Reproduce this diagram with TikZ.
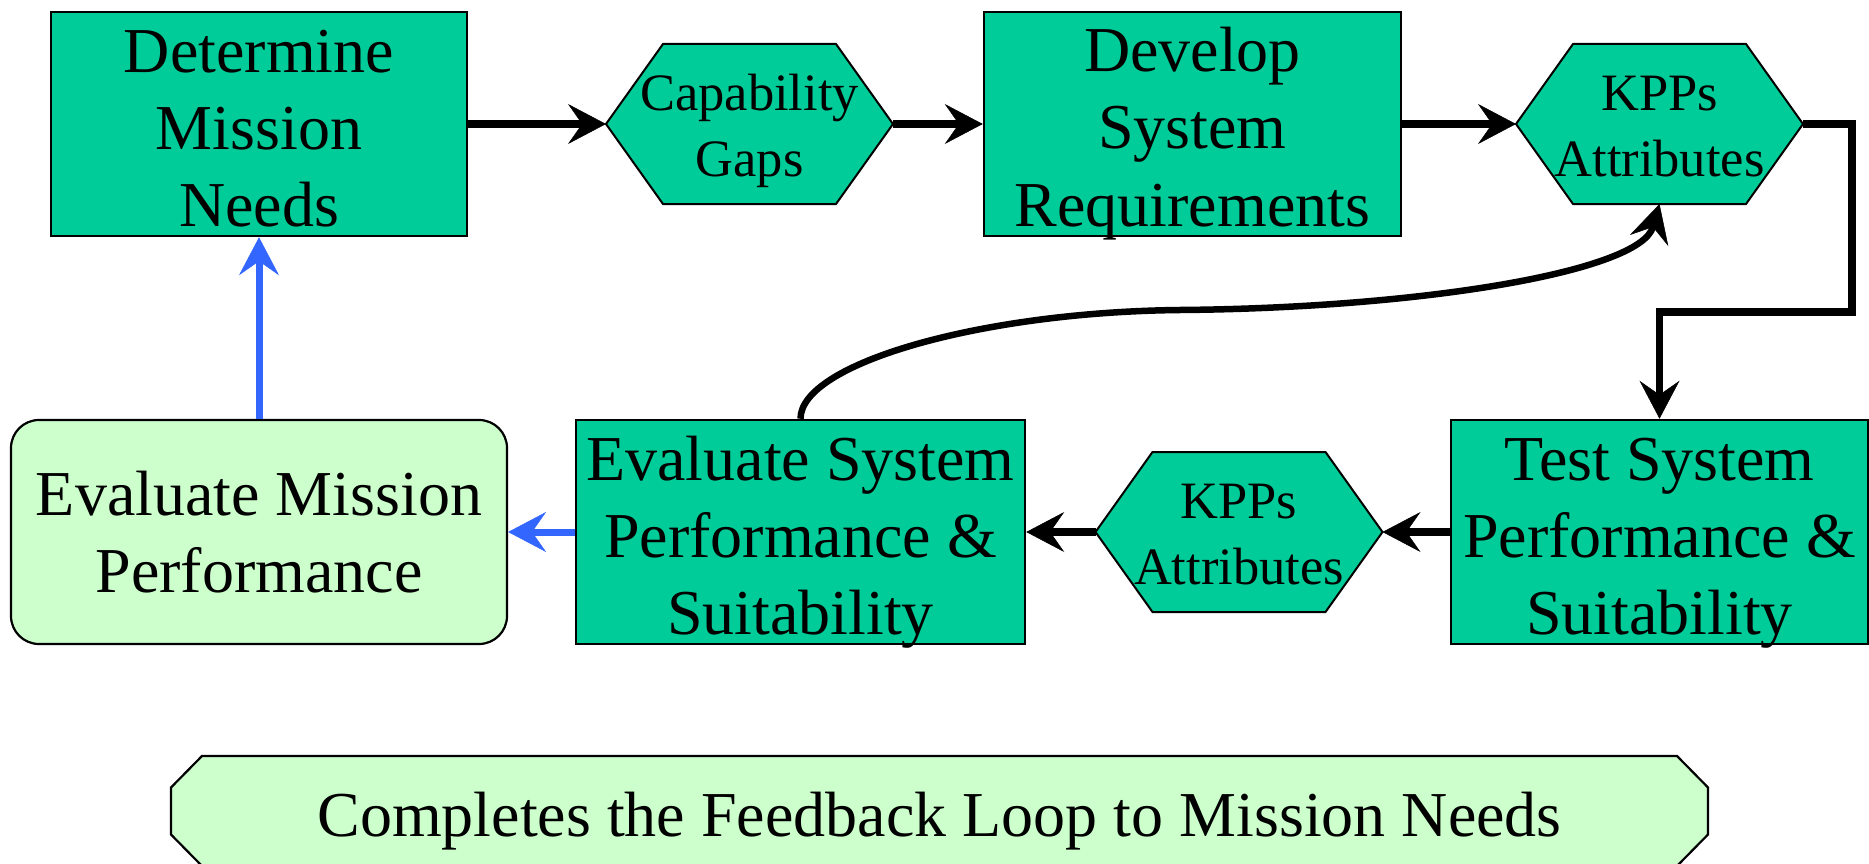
\documentclass[tikz,border=0pt]{standalone}
\usepackage{fontspec}
\setmainfont{Liberation Serif}
\usetikzlibrary{arrows.meta,backgrounds,calc}

\definecolor{stepteal}{RGB}{0,204,153}
\definecolor{palegreen}{RGB}{204,255,204}
\definecolor{loopblue}{RGB}{51,102,255}

% fixed line struts so every label sits on the same baselines
\newcommand{\bigstrut}{\rule[-14pt]{0pt}{78pt}}
\newcommand{\smallstrut}{\rule[-13pt]{0pt}{65pt}}

\begin{document}
\begin{tikzpicture}[x=1pt,y=-1pt,
  bigtext/.style={font=\fontsize{64}{77}\selectfont, align=center, text=black},
  smalltext/.style={font=\fontsize{52.5}{63}\selectfont, align=center, text=black},
  stepbox/.style={bigtext, draw=black, line width=2.5pt, fill=stepteal, inner xsep=0pt, inner ysep=-10pt},
  missionbox/.style={bigtext, draw=black, line width=2.2pt, fill=palegreen, inner sep=0pt, rounded corners=28pt},
  hexlabel/.style={smalltext, inner sep=0pt, outer sep=0pt, minimum width=287pt, minimum height=160pt},
  hexshape/.style={draw=black, line width=2pt, fill=stepteal, line join=miter},
  loopshape/.style={draw=black, line width=2.2pt, fill=palegreen},
  tip/.style={-{Stealth[length=38pt,width=40pt,inset=14pt,line width=0.5pt]}},
  flow/.style={tip, draw=black, line width=7.5pt},
  backflow/.style={tip, draw=loopblue, color=loopblue, line width=7pt},
  curveflow/.style={tip, draw=black, line width=6.5pt},
]
\useasboundingbox (0,0) rectangle (1869,864);

% upper row
\node[stepbox, minimum width=416pt, minimum height=224pt] (need) at (259,124)
  {\bigstrut Determine\\Mission\\Needs\bigstrut};
\node[hexlabel] (gaps) at (749.5,124) {\smallstrut Capability\\Gaps\smallstrut};
\node[stepbox, minimum width=417pt, minimum height=224pt] (req) at (1192.5,124)
  {\bigstrut Develop\\System\\Requirements\bigstrut};
\node[hexlabel] (kpp1) at (1659.5,124) {\smallstrut KPPs\\Attributes\smallstrut};

% lower row
\node[stepbox, minimum width=417pt, minimum height=224pt] (test) at (1659.5,532)
  {\bigstrut Test System\\Performance \&\\Suitability\bigstrut};
\node[hexlabel] (kpp2) at (1239,532) {\smallstrut KPPs\\Attributes\smallstrut};
\node[stepbox, minimum width=449pt, minimum height=224pt] (evalsys) at (800.5,532)
  {\bigstrut Evaluate System\\Performance \&\\Suitability\bigstrut};
\node[missionbox, minimum width=496pt, minimum height=224pt] (evalmis) at (259,532)
  {Evaluate Mission\\Performance};

% banner
\node[bigtext, inner sep=0pt, outer sep=0pt, minimum width=1537pt, minimum height=110pt] (loop) at (939.5,811)
  {\bigstrut Completes the Feedback Loop to Mission Needs};

\begin{scope}[on background layer]
  \foreach \h in {gaps,kpp1,kpp2}
    \filldraw[hexshape] (\h.west) -- ($(\h.north west)+(57,0)$) -- ($(\h.north east)+(-57,0)$)
      -- (\h.east) -- ($(\h.south east)+(-57,0)$) -- ($(\h.south west)+(57,0)$) -- cycle;
  \filldraw[loopshape] ($(loop.west)+(0,-23.5)$) -- ($(loop.north west)+(31,0)$)
    -- ($(loop.north east)+(-31,0)$) -- ($(loop.east)+(0,-23.5)$)
    -- ($(loop.east)+(0,23.5)$) -- ($(loop.south east)+(-31,0)$)
    -- ($(loop.south west)+(31,0)$) -- ($(loop.west)+(0,23.5)$) -- cycle;
\end{scope}

% forward flow
\draw[flow] (need.east) -- (gaps.west);
\draw[flow] (gaps.east) -- (req.west);
\draw[flow] (req.east) -- (kpp1.west);
\draw[flow] (kpp1.east) -- ++(49,0) |- ($(test.north)+(0,-107)$) -- (test.north);
\draw[flow] (test.west) -- (kpp2.east);
\draw[flow] (kpp2.west) -- (evalsys.east);

% feedback from evaluation back to the attributes
\coordinate (arcmid) at (1180,310);
\draw[curveflow] (evalsys.north) .. controls +(0,-55) and (980,312) .. (arcmid)
  .. controls (1420,308) and (1640,272) .. (kpp1.south);

% mission feedback
\draw[backflow] (evalsys.west) -- (evalmis.east);
\draw[backflow] (evalmis.north) -- (need.south);
\end{tikzpicture}
\end{document}
